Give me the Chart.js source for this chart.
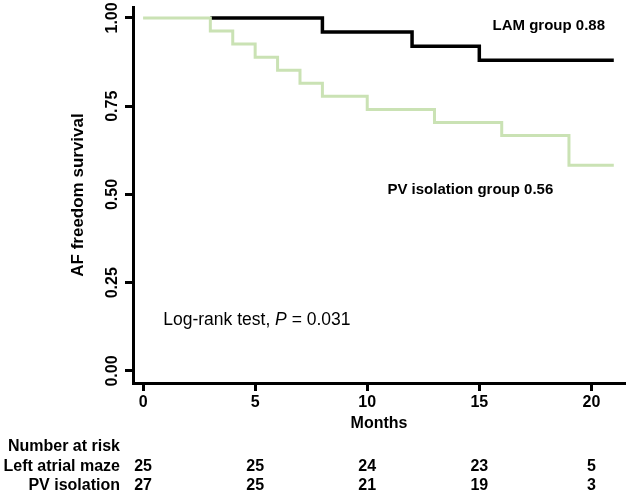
<!DOCTYPE html>
<html>
<head>
<meta charset="utf-8">
<script src="https://cdn.jsdelivr.net/npm/chart.js@4"></script>
<style>
  body { margin: 0; background: #fff; }
  #wrap { width: 642px; height: 493px; }
</style>
</head>
<body>
<div id="wrap"><canvas id="km" width="642" height="493"></canvas></div>
<script>
// Kaplan-Meier steps (months, survival)
const lamMonths = [3, 8, 12, 15, 21];
const lamSurvival = [1.00, 0.96, 0.92, 0.88, 0.88];
const pvMonths = [0, 3, 4, 5, 6, 7, 8, 10, 13, 16, 19, 21];
const pvSurvival = [1.00, 0.963, 0.926, 0.889, 0.852, 0.815, 0.778, 0.741, 0.704, 0.667, 0.583, 0.583];

const xTicks = [0, 5, 10, 15, 20];
const yTicks = [0, 0.25, 0.5, 0.75, 1];

const riskRows = ['Left atrial maze', 'PV isolation'];
const riskLam = [25, 25, 24, 23, 5];
const riskPv = [27, 25, 21, 19, 3];

const FONT = '"Liberation Sans", Arial, sans-serif';
const GREEN = '#cae2b4';

const toPoints = (xs, ys) => xs.map((m, i) => ({ x: m, y: ys[i] }));

const textPlugin = {
  id: 'kmText',
  afterDraw(chart) {
    const { ctx } = chart;
    const x = chart.scales.x;
    const y = chart.scales.y;
    ctx.save();
    ctx.fillStyle = '#000';
    ctx.textBaseline = 'middle';

    // tick labels
    ctx.font = 'bold 16px ' + FONT;
    ctx.textAlign = 'center';
    xTicks.forEach(v => ctx.fillText(String(v), x.getPixelForValue(v), 403));
    yTicks.forEach(v => {
      ctx.save();
      ctx.translate(113, y.getPixelForValue(v));
      ctx.rotate(-Math.PI / 2);
      ctx.fillText(v.toFixed(2), 0, 0);
      ctx.restore();
    });

    // axis titles
    ctx.fillText('Months', (chart.chartArea.left + chart.chartArea.right) / 2, 424);
    ctx.save();
    ctx.font = 'bold 17px ' + FONT;
    ctx.translate(78, (chart.chartArea.top + chart.chartArea.bottom) / 2);
    ctx.rotate(-Math.PI / 2);
    ctx.fillText('AF freedom survival', 0, 0);
    ctx.restore();

    // curve labels
    ctx.font = 'bold 15px ' + FONT;
    ctx.fillText('LAM group 0.88', x.getPixelForValue(18.1), y.getPixelForValue(0.977));
    ctx.fillText('PV isolation group 0.56', x.getPixelForValue(14.6), y.getPixelForValue(0.513));

    // log-rank note
    ctx.textAlign = 'left';
    let lx = x.getPixelForValue(0.9);
    const ly = y.getPixelForValue(0.145);
    const parts = [['Log-rank test, ', ''], ['P', 'italic '], [' = 0.031', '']];
    parts.forEach(([t, style]) => {
      ctx.font = style + '17.5px ' + FONT;
      ctx.fillText(t, lx, ly);
      lx += ctx.measureText(t).width;
    });

    // number at risk table
    ctx.font = 'bold 16px ' + FONT;
    ctx.textAlign = 'right';
    ctx.fillText('Number at risk', 120, 447);
    ctx.fillText(riskRows[0], 120, 467);
    ctx.fillText(riskRows[1], 120, 486);
    ctx.textAlign = 'center';
    xTicks.forEach((v, i) => {
      ctx.fillText(String(riskLam[i]), x.getPixelForValue(v), 467);
      ctx.fillText(String(riskPv[i]), x.getPixelForValue(v), 486);
    });
    ctx.restore();
  }
};

new Chart(document.getElementById('km'), {
  type: 'line',
  data: {
    datasets: [
      {
        label: 'PV isolation',
        data: toPoints(pvMonths, pvSurvival),
        borderColor: GREEN,
        borderWidth: 3,
        stepped: true,
        pointRadius: 0,
        fill: false
      },
      {
        label: 'LAM',
        data: toPoints(lamMonths, lamSurvival),
        borderColor: '#000',
        borderWidth: 3.5,
        stepped: true,
        pointRadius: 0,
        fill: false
      }
    ]
  },
  plugins: [textPlugin],
  options: {
    responsive: false,
    animation: false,
    layout: { padding: { top: 7, right: 17, left: 0, bottom: 0 } },
    plugins: {
      legend: { display: false },
      tooltip: { enabled: false }
    },
    scales: {
      x: {
        type: 'linear',
        min: -0.45,
        max: 21.5,
        afterBuildTicks: (s) => { s.ticks = xTicks.map(v => ({ value: v })); },
        afterFit: (s) => { s.height = 110; },
        ticks: { display: false },
        grid: { drawOnChartArea: false, drawTicks: true, tickLength: 8, tickWidth: 3, color: '#000' },
        border: { display: true, color: '#000', width: 3 }
      },
      y: {
        type: 'linear',
        min: -0.034,
        max: 1.031,
        afterBuildTicks: (s) => { s.ticks = yTicks.map(v => ({ value: v })); },
        afterFit: (s) => { s.width = 133; },
        ticks: { display: false },
        grid: { drawOnChartArea: false, drawTicks: true, tickLength: 8, tickWidth: 3, color: '#000' },
        border: { display: true, color: '#000', width: 3 }
      }
    }
  }
});
</script>
</body>
</html>
